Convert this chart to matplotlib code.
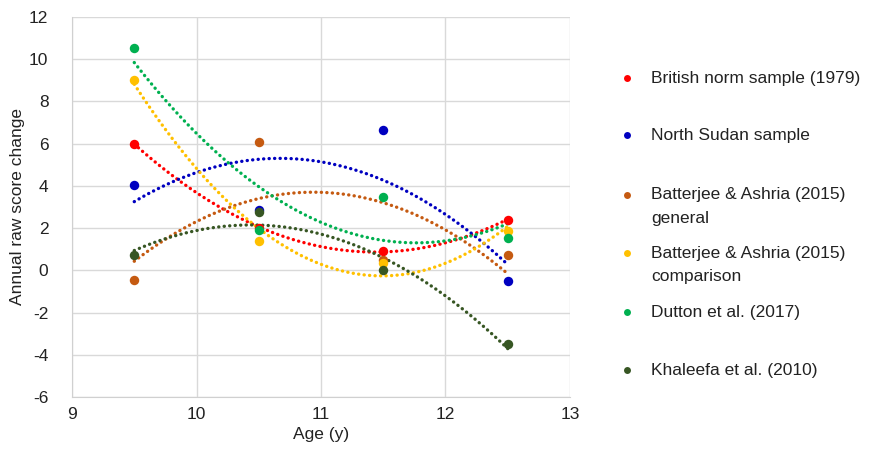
import numpy as np
import matplotlib
matplotlib.use("Agg")
import matplotlib.pyplot as plt
from matplotlib.lines import Line2D
from matplotlib import font_manager

# ---- data ----
ages = [9.5, 10.5, 11.5, 12.5]
british = [6.0, 2.0, 0.93, 2.4]
sudan = [4.05, 2.87, 6.66, -0.52]
batt_general = [-0.47, 6.1, 0.5, 0.74]
batt_comparison = [9.02, 1.37, 0.35, 1.88]
dutton = [10.52, 1.93, 3.45, 1.53]
khaleefa = [0.74, 2.74, 0.0, -3.51]

labels = ["British norm sample (1979)", "North Sudan sample",
          "Batterjee & Ashria (2015)\ngeneral", "Batterjee & Ashria (2015)\ncomparison",
          "Dutton et al. (2017)", "Khaleefa et al. (2010)"]
series = [british, sudan, batt_general, batt_comparison, dutton, khaleefa]
colors = ["#FF0000", "#0000C0", "#C55A11", "#FFC000", "#00B050", "#375623"]

names = {f.name for f in font_manager.fontManager.ttflist}
narrow = "Liberation Sans Narrow" in names
fam = "Liberation Sans Narrow" if narrow else "Liberation Sans"
fs = 14 if narrow else 12.5
plt.rcParams["font.family"] = [fam, "DejaVu Sans"]
plt.rcParams["axes.unicode_minus"] = False

fig = plt.figure(figsize=(8.75, 4.69), dpi=100)
ax = fig.add_axes([0.0823, 0.1535, 0.5691, 0.8103])

# polynomial (order 2) trendlines, dotted like the original
xs = np.linspace(ages[0], ages[-1], 200)
for vals, c in zip(series, colors):
    coef = np.polyfit(ages, vals, 2)
    ax.plot(xs, np.polyval(coef, xs), color=c, lw=2.4,
            linestyle=(0, (0.05, 1.6)), dash_capstyle="round", zorder=2)
for vals, c in zip(series, colors):
    ax.plot(ages, vals, "o", color=c, ms=6.8, mec="none", zorder=3)

ax.set_xlim(9, 13)
ax.set_ylim(-6, 12)
ax.set_xticks([9, 10, 11, 12, 13])
ax.set_yticks(range(-6, 13, 2))
ax.grid(True, color="#d9d9d9", lw=1)
ax.set_axisbelow(True)
for sp in ["top", "right"]:
    ax.spines[sp].set_visible(False)
for sp in ["left", "bottom"]:
    ax.spines[sp].set_color("#d0d0d0")
ax.tick_params(length=0, labelsize=fs, colors="#222222")
ax.tick_params(axis="y", pad=17)
ax.tick_params(axis="x", pad=7)
ax.set_xlabel("Age (y)", fontsize=fs, color="#222222", labelpad=4)
ax.set_ylabel("Annual raw score change", fontsize=fs, color="#222222", labelpad=3)

# legend drawn by hand to match the spacing
leg_y = [78, 135, 195, 253, 312, 370]
for lab, c, py in zip(labels, colors, leg_y):
    yf = 1 - py / 469
    fig.add_artist(Line2D([627 / 875], [yf], marker="o", color=c, ms=5, mec="none",
                          transform=fig.transFigure))
    fig.text(651 / 875, yf, lab.split("\n")[0], fontsize=fs, color="#222222",
             va="center", ha="left")
    if "\n" in lab:
        fig.text(651 / 875, 1 - (py + 23) / 469, lab.split("\n")[1], fontsize=fs,
                 color="#222222", va="center", ha="left")

fig.savefig("out.png", dpi=100)
